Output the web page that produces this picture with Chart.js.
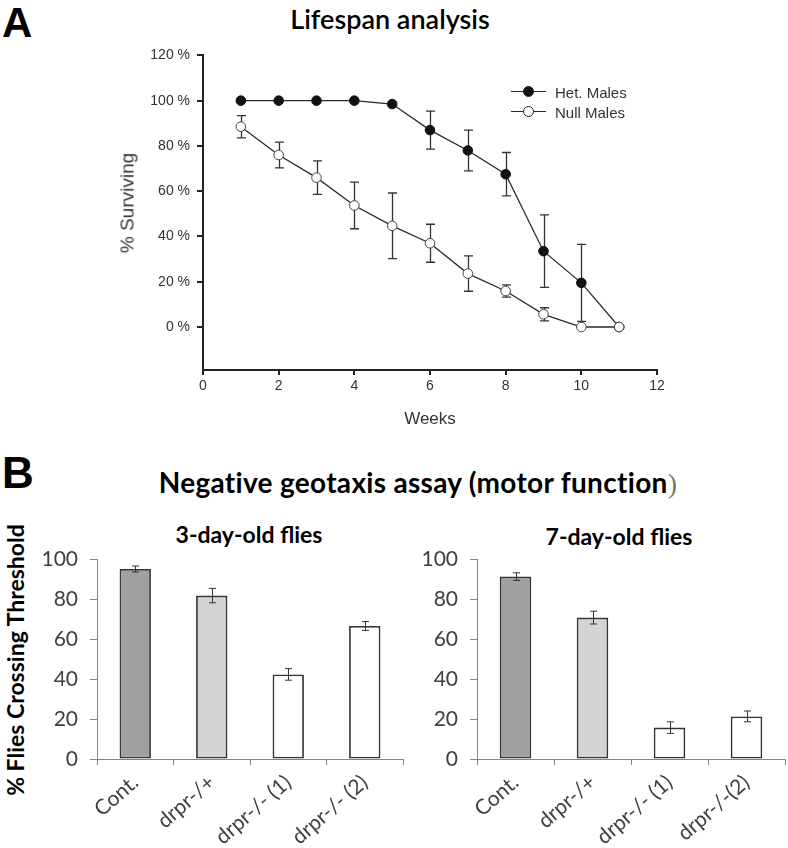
<!DOCTYPE html>
<html>
<head>
<meta charset="utf-8">
<script src="https://cdn.jsdelivr.net/npm/chart.js@4.4.1/dist/chart.umd.min.js"></script>
<style>
  body { margin: 0; background: #fff; }
  #page { position: relative; width: 788px; height: 848px; overflow: hidden; background: #fff; }
  canvas { position: absolute; }
  .lbl { position: absolute; white-space: nowrap; }
  .center { transform: translateX(-50%); }
  .panel { font: bold 42px 'Liberation Sans', Arial, sans-serif; color: #000; line-height: 42px; }
  .lato { font-family: Lato, 'Open Sans', sans-serif; color: #000; }
  .arial { font-family: 'Liberation Sans', Arial, sans-serif; color: #333; }
  #legendA .row { display: flex; align-items: center; height: 20px; font: 15px 'Liberation Sans', Arial, sans-serif; color: #333; }
  #legendA .sym { position: relative; width: 35px; height: 20px; margin-right: 9px; }
  #legendA .sym .ln { position: absolute; left: 0; right: 0; top: 9px; border-top: 1.3px solid #2a2a2a; }
  #legendA .sym .dot { position: absolute; left: 12px; top: 4px; width: 9px; height: 9px; border-radius: 50%; border: 1px solid #222; }
</style>
</head>
<body>
<div id="page">
  <div class="lbl panel" style="left:2px;top:2px;">A</div>
  <div class="lbl lato center" style="left:390px;top:5px;font-size:27px;line-height:27px;font-weight:600;">Lifespan analysis</div>
  <canvas id="lifespan" width="600" height="400" style="left:100px;top:40px;"></canvas>
  <div class="lbl arial" style="left:127px;top:203px;font-size:19px;line-height:19px;transform:translate(-50%,-50%) rotate(-90deg);">% Surviving</div>
  <div class="lbl arial center" style="left:430px;top:410px;font-size:17px;line-height:18px;">Weeks</div>
  <div class="lbl" id="legendA" style="left:511px;top:82px;"></div>

  <div class="lbl panel" style="left:2px;top:452px;font-size:44px;">B</div>
  <div class="lbl lato center" style="left:418px;top:468px;font-size:28px;line-height:28px;font-weight:bold;letter-spacing:0.3px;">Negative geotaxis assay (motor function<span style="font-family:'Liberation Serif',serif;font-weight:normal;color:#777;">)</span></div>
  <div class="lbl lato center" style="left:249px;top:523px;font-size:23px;line-height:23px;font-weight:bold;">3-day-old flies</div>
  <div class="lbl lato center" style="left:619px;top:525px;font-size:23px;line-height:23px;font-weight:bold;">7-day-old flies</div>
  <div class="lbl lato" style="left:15px;top:660px;font-size:23px;line-height:23px;font-weight:bold;transform:translate(-50%,-50%) rotate(-90deg);">% Flies Crossing Threshold</div>
  <canvas id="day3" width="410" height="338" style="left:0px;top:510px;"></canvas>
  <canvas id="day7" width="378" height="338" style="left:410px;top:510px;"></canvas>
</div>
<script>
// Lifespan (panel A)
const weeks = [1, 2, 3, 4, 5, 6, 7, 8, 9, 10, 11];
const hetMales = [100, 100, 100, 100, 98.5, 87, 78, 67.5, 33.5, 19.5, 0];
const hetErr = [0, 0, 0, 0, 1, 8.4, 9, 9.6, 16, 17, 0];
const nullMales = [88.5, 76, 66, 53.7, 44.7, 37, 23.6, 15.9, 5.6, 0, 0];
const nullErr = [4.9, 5.7, 7.4, 10.3, 14.5, 8.4, 7.8, 2.7, 2.9, 0, 0];
const survivalTicks = [0, 20, 40, 60, 80, 100, 120];

// Negative geotaxis (panel B)
const groups3 = ['Cont.', 'drpr-/+', 'drpr-/- (1)', 'drpr-/- (2)'];
const groups7 = ['Cont.', 'drpr-/+', 'drpr-/- (1)', 'drpr-/-(2)'];
const day3 = [95, 81.7, 42.3, 66.5];
const day3Err = [1.5, 3.6, 2.9, 2.2];
const day7 = [91.2, 70.7, 15.7, 21.3];
const day7Err = [1.9, 3.2, 2.9, 2.7];

const barColors = ['#a0a0a0', '#d4d4d4', '#ffffff', '#ffffff'];

// draws +/- error bars for any dataset carrying an `errors` array
const errorBars = {
  id: 'errorBars',
  beforeDatasetsDraw(chart, args, opts) { if (opts.behind) drawErrors(chart, opts); },
  afterDatasetsDraw(chart, args, opts) { if (!opts.behind) drawErrors(chart, opts); },
};

function drawErrors(chart, opts) {
  const ctx = chart.ctx;
  ctx.save();
  ctx.strokeStyle = opts.color;
  ctx.lineWidth = opts.width;
  chart.data.datasets.forEach((ds, i) => {
    if (!ds.errors) return;
    const meta = chart.getDatasetMeta(i);
    const yScale = chart.scales[meta.yAxisID];
    meta.data.forEach((el, j) => {
      const err = ds.errors[j];
      if (!err) return;
      const raw = ds.data[j];
      const v = typeof raw === 'object' ? raw.y : raw;
      const x = Math.round(el.x) + 0.5;
      const top = yScale.getPixelForValue(v + err);
      const bot = yScale.getPixelForValue(v - err);
      ctx.beginPath();
      ctx.moveTo(x, top); ctx.lineTo(x, bot);
      ctx.moveTo(x - opts.cap, top); ctx.lineTo(x + opts.cap, top);
      ctx.moveTo(x - opts.cap, bot); ctx.lineTo(x + opts.cap, bot);
      ctx.stroke();
    });
  });
  ctx.restore();
}

const arial = 'Liberation Sans, Arial, sans-serif';
const lato = 'Lato, Open Sans, sans-serif';

const lifespanChart = new Chart(document.getElementById('lifespan'), {
  type: 'line',
  data: {
    datasets: [
      {
        label: 'Het. Males',
        data: weeks.map((w, i) => ({ x: w, y: hetMales[i] })),
        errors: hetErr,
        order: 1,
        borderColor: '#2a2a2a',
        borderWidth: 1.3,
        pointRadius: 4.8,
        pointBackgroundColor: '#111',
        pointBorderColor: '#111',
        pointBorderWidth: 1,
      },
      {
        label: 'Null Males',
        data: weeks.map((w, i) => ({ x: w, y: nullMales[i] })),
        errors: nullErr,
        order: 0,
        borderColor: '#2a2a2a',
        borderWidth: 1.3,
        pointRadius: 4.8,
        pointBackgroundColor: '#fff',
        pointBorderColor: '#444',
        pointBorderWidth: 1,
      },
    ],
  },
  options: {
    responsive: false,
    animation: false,
    layout: { padding: { top: 12, right: 43, bottom: 0, left: 0 } },
    plugins: {
      legend: { display: false },
      tooltip: { enabled: false },
      errorBars: { behind: true, color: '#333', width: 1.3, cap: 4.5 },
    },
    scales: {
      x: {
        type: 'linear',
        min: 0,
        max: 12,
        ticks: { stepSize: 2, color: '#333', font: { family: arial, size: 14 }, padding: 3 },
        grid: { drawOnChartArea: false, tickLength: 5, color: '#222', lineWidth: 2 },
        border: { color: '#222', width: 2 },
        afterFit(s) { s.height = 70; },
      },
      y: {
        min: -19,
        max: 120,
        afterBuildTicks(s) { s.ticks = survivalTicks.map(v => ({ value: v })); },
        ticks: { color: '#333', font: { family: arial, size: 14 }, padding: 7, callback: v => `${v} %` },
        grid: { drawOnChartArea: false, tickLength: 6, color: '#222', lineWidth: 2 },
        border: { color: '#222', width: 2 },
        afterFit(s) { s.width = 103; },
      },
    },
  },
  plugins: [errorBars],
});

// html legend with line + marker symbols
const legendBox = document.getElementById('legendA');
lifespanChart.data.datasets.forEach(ds => {
  const row = document.createElement('div');
  row.className = 'row';
  row.innerHTML = `<span class="sym"><i class="ln"></i><i class="dot" style="background:${ds.pointBackgroundColor}"></i></span>${ds.label}`;
  legendBox.appendChild(row);
});

function geotaxisChart(id, labels, values, errs, yWidth, padRight) {
  return new Chart(document.getElementById(id), {
    type: 'bar',
    data: {
      labels,
      datasets: [{
        data: values,
        errors: errs,
        backgroundColor: barColors,
        borderColor: '#353535',
        borderWidth: 1.8,
        borderSkipped: false,
        barPercentage: 0.41,
        categoryPercentage: 1,
      }],
    },
    options: {
      responsive: false,
      animation: false,
      layout: { padding: { top: 49, right: padRight, bottom: 0, left: 0 } },
      plugins: {
        legend: { display: false },
        tooltip: { enabled: false },
        errorBars: { behind: false, color: '#333', width: 1, cap: 3.5 },
      },
      scales: {
        x: {
          ticks: { color: '#404040', font: { family: lato, size: 21 }, minRotation: 41, maxRotation: 41, padding: 5 },
          grid: { drawOnChartArea: false, tickLength: 6, color: '#868686', lineWidth: 1 },
          border: { color: '#868686', width: 1 },
          afterFit(s) { s.height = 89; },
        },
        y: {
          min: 0,
          max: 100,
          ticks: { stepSize: 20, color: '#404040', font: { family: lato, size: 21 }, padding: 12 },
          grid: { drawOnChartArea: false, tickLength: 7, color: '#868686', lineWidth: 1 },
          border: { color: '#868686', width: 1 },
          afterFit(s) { s.width = yWidth; },
        },
      },
    },
    plugins: [errorBars],
  });
}

geotaxisChart('day3', groups3, day3, day3Err, 97, 7);
geotaxisChart('day7', groups7, day7, day7Err, 67, 3);
</script>
</body>
</html>
